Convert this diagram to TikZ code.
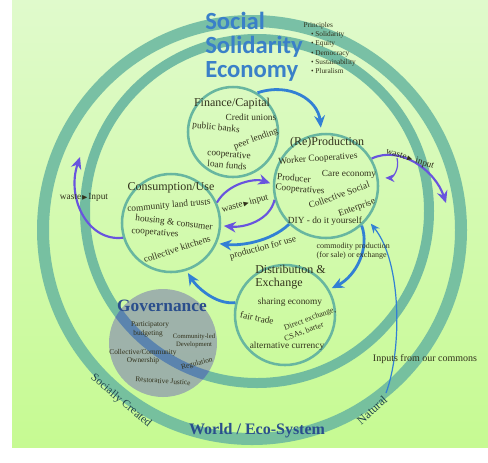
\documentclass[tikz,border=0pt]{standalone}
\usepackage{amsmath}
\usepackage{amssymb}
\usepackage{fontspec}
\setmainfont{Liberation Serif}
\newfontfamily\calibrifont{Carlito}
\usetikzlibrary{arrows.meta}

\definecolor{bgtop}{RGB}{224,250,204}
\definecolor{bgbot}{RGB}{198,250,146}
\definecolor{ringteal}{RGB}{104,182,160}
\definecolor{ringblue}{RGB}{74,120,176}
\definecolor{ssebl}{RGB}{58,128,200}
\definecolor{arrblue}{RGB}{50,128,212}
\definecolor{arrpurple}{RGB}{104,84,222}
\definecolor{govfill}{RGB}{150,166,172}
\definecolor{govtext}{RGB}{42,78,140}
\definecolor{bodytext}{RGB}{50,50,28}
\definecolor{bandtext}{RGB}{32,68,76}

\newcommand{\tri}{{\tiny$\blacktriangleright$}}

\begin{document}
\begin{tikzpicture}[x=0.75pt,y=0.75pt,yscale=-1,xscale=1,
  sector/.style={circle,draw=ringteal,line width=1.9pt,inner sep=0pt},
  bluearr/.style={draw=arrblue,line width=2.1pt,-{Stealth[length=9pt,width=8pt]}},
  purparr/.style={draw=arrpurple,line width=1.6pt,-{Stealth[length=9pt,width=8pt]}},
  thinarr/.style={line width=0.9pt,-{Stealth[length=7pt,width=6pt]}},
  title/.style={font=\fontsize{9}{10}\selectfont,text=bodytext,inner sep=0.75pt},
  item/.style={font=\fontsize{7}{8}\selectfont,text=bodytext,inner sep=0.3pt},
  small/.style={font=\fontsize{5.5}{6.5}\selectfont,text=bodytext,inner sep=0.3pt},
  band/.style={font=\fontsize{8.5}{9}\selectfont,text=bandtext,inner sep=0.3pt},
  ]
\path[use as bounding box] (0,0) rectangle (488,462);
\fill[white] (0,0) rectangle (488,462);
\shade[top color=bgtop,bottom color=bgbot] (12,0) rectangle (488,447);

%Shape: Circle (world ring)
\draw[draw=ringteal,line width=9pt,opacity=0.85] (252,230) circle (209);
%Shape: Circle (economy ring)
\draw[draw=ringteal,line width=7.5pt,opacity=0.9] (257,211) circle (172);

%Shape: Circle
\node[circle,fill=govfill,fill opacity=0.85,minimum size=81pt,inner sep=0pt] (gov) at (163,343) {};
\begin{scope}
\clip (163,343) circle (54);
\draw[draw=ringblue,line width=7.5pt,opacity=0.75] (257,211) circle (172);
\end{scope}

%Shape: Circle
\node[sector,minimum size=67.5pt] (fin) at (233,132) {};
%Shape: Circle
\node[sector,minimum size=78pt] (prod) at (326,186) {};
%Shape: Circle
\node[sector,minimum size=73.5pt] (cons) at (171,223) {};
%Shape: Circle
\node[sector,minimum size=75pt] (dist) at (285,315) {};

\coordinate (wasteR) at (446,203);
\coordinate (curl) at (397,158);
\coordinate (wasteL) at (80,157);
\coordinate (commons) at (386,393);

%Curve Lines
\draw[bluearr,shorten >=4pt] (fin.58) .. controls (290,82) and (318,100) .. (prod.95);
%Curve Lines
\draw[purparr] (prod.31) .. controls (400,145) and (435,170) .. (wasteR);
%Curve Lines
\draw[thinarr,arrpurple,shorten >=5pt] (curl) .. controls (400,170) and (392,178) .. (prod.9);
%Curve Lines
\draw[purparr,shorten >=2pt] (cons.24) .. controls (228,183) and (255,178) .. (prod.178);
%Curve Lines
\draw[purparr,shorten >=2pt] (prod.195) .. controls (270,220) and (245,228) .. (cons.-3);
%Curve Lines
\draw[bluearr,shorten >=2pt] (prod.226) .. controls (270,242) and (240,246) .. (cons.-24);
%Curve Lines
\draw[bluearr,shorten >=2pt] (prod.-48) .. controls (370,248) and (356,276) .. (dist.30);
%Curve Lines
\draw[bluearr,shorten >=2pt] (dist.166) .. controls (215,305) and (196,286) .. (cons.-72);
%Curve Lines
\draw[purparr] (cons.197) .. controls (88,242) and (66,198) .. (wasteL);
%Curve Lines
\draw[thinarr,arrblue,shorten >=4pt] (commons) .. controls (402,350) and (402,262) .. (prod.-39);

% Text Node
\draw (205,47) node (sse) [anchor=west,align=left,inner sep=0pt,text=ssebl,font=\calibrifont\bfseries\fontsize{18.5}{18}\selectfont] {Social\\Solidarity\\Economy};
% Text Node
\draw (303,48) node (principles) [small,anchor=west,align=left,font=\fontsize{5.5}{7}\selectfont] {Principles\\\quad\textbullet\ Solidarity\\\quad\textbullet\ Equity\\\quad\textbullet\ Democracy\\\quad\textbullet\ Sustainability\\\quad\textbullet\ Pluralism};

% Text Node
\draw (232,104) node (fint) [title] {Finance/Capital};
\draw (251,117) node (cu) [item] {Credit unions};
\draw (216,128) node (pb) [item,rotate=-6] {public banks};
\draw (256,139) node (pl) [item,rotate=20] {peer lending};
\draw (229,155) node (coop) [item,rotate=-5] {cooperative};
\draw (227,165) node (lf) [item,rotate=-5] {loan funds};

% Text Node
\draw (327,143) node (prodt) [title] {(Re)Production};
\draw (318,159) node (wc) [item,rotate=4] {Worker Cooperatives};
\draw (349,174) node (care) [item] {Care economy};
\draw (294,178) node (pr) [item,rotate=-5] {Producer};
\draw (300,190) node (pco) [item,rotate=-5] {Cooperatives};
\draw (339,195) node (cs) [item,rotate=20] {Collective Social};
\draw (357,208) node (ent) [item,rotate=20] {Enterprise};
\draw (325,221) node (diy) [item] {DIY - do it yourself};

% Text Node
\draw (171,188) node (const) [title] {Consumption/Use};
\draw (169,206) node (clt) [item,rotate=5] {community land trusts};
\draw (174,223) node (hc) [item,rotate=-7] {housing \& consumer};
\draw (155,233) node (cop) [item,rotate=-5] {cooperatives};
\draw (177,249) node (ck) [item,rotate=18] {collective kitchens};

% Text Node
\draw (254,277) node (distt) [title,anchor=west,align=left] {Distribution \&\\Exchange};
\draw (290,302) node (se) [item] {sharing economy};
\draw (257,318) node (ft) [item,rotate=-12] {fair trade};
\draw (310,319) node (de) [item,rotate=20,font=\fontsize{6}{7}\selectfont] {Direct exchange,};
\draw (304,332) node (csa) [item,rotate=20,font=\fontsize{6}{7}\selectfont] {CSAs, barter};
\draw (287,346) node (ac) [item] {alternative currency};

% Text Node
\draw (162,306) node (govt) [inner sep=0.75pt,text=govtext,font=\bfseries\fontsize{13}{14}\selectfont] {Governance};
\draw (150,325) node (part) [small] {Participatory};
\draw (148,334) node (budg) [small] {budgeting};
\draw (194,337) node (cled) [small,font=\fontsize{5}{6}\selectfont] {Community-led};
\draw (194,345) node (dev) [small,font=\fontsize{5}{6}\selectfont] {Development};
\draw (143,353) node (coll) [small] {Collective/Community};
\draw (143,361) node (own) [small] {Ownership};
\draw (197,364) node (reg) [small,rotate=15] {Regulation};
\draw (163,381) node (rj) [small,rotate=-4] {Restorative Justice};

% Text Node
\draw (410,159) node (wlabR) [item,rotate=-18] {waste\tri\ input};
\draw (245,204) node (wlabM) [item,rotate=15] {waste\tri input};
\draw (84,197) node (wlabL) [item] {waste\tri Input};
\draw (263,248) node (pfu) [item,rotate=15] {production for use};
\draw (316,251) node (comm) [small,anchor=west,align=left,font=\fontsize{6}{7}\selectfont] {commodity production\\(for sale) or exchange};
\draw (425,359) node (inp) [item,font=\fontsize{7.5}{8}\selectfont] {Inputs from our commons};

% Text Node
\draw (121,401) node (socc) [band,rotate=-40] {Socially Created};
\draw (372,410) node (nat) [band,rotate=42,font=\fontsize{9}{10}\selectfont] {Natural};
\draw (257,431) node (world) [inner sep=0.75pt,text=govtext,font=\bfseries\fontsize{12}{13}\selectfont] {World / Eco-System};

\end{tikzpicture}
\end{document}
